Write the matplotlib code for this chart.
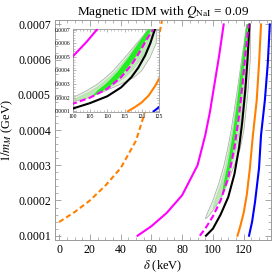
import numpy as np
import matplotlib
matplotlib.use("Agg")
import matplotlib.pyplot as plt
from matplotlib.ticker import MultipleLocator, FuncFormatter

plt.rcParams['font.family'] = ['Liberation Serif', 'DejaVu Serif']
plt.rcParams['mathtext.fontset'] = 'stix'

# ---- data (delta in keV, 1/m_M in GeV^-1) ----
orange_dash_d = [0, 10, 20, 30, 40, 50, 55, 60, 63, 65.5, 66.8]
orange_dash_y = [1.39e-4, 1.67e-4, 2.0e-4, 2.42e-4, 2.92e-4, 3.7e-4, 4.4e-4, 5.4e-4, 6.1e-4, 6.8e-4, 7.1e-4]

magenta_d = [51, 60, 70, 80, 90, 95, 98, 101, 104, 107]
magenta_y = [1.0e-4, 1.27e-4, 1.65e-4, 2.15e-4, 3.0e-4, 3.85e-4, 4.5e-4, 5.3e-4, 6.1e-4, 7.0e-4]

magenta_dash_d = [91.5, 95, 100, 105, 110, 114, 117, 119.5, 121.5, 123.3]
magenta_dash_y = [1.0e-4, 1.2e-4, 1.55e-4, 2.0e-4, 2.65e-4, 3.5e-4, 4.4e-4, 5.4e-4, 6.3e-4, 7.0e-4]

black_d = [95.5, 100, 105, 110, 114, 117, 119, 121, 122.5, 123.8]
black_y = [1.0e-4, 1.2e-4, 1.6e-4, 2.1e-4, 2.75e-4, 3.5e-4, 4.2e-4, 5.1e-4, 6.0e-4, 7.0e-4]

orange_d = [116, 118, 120, 122, 124, 126, 128.5, 130, 131.3]
orange_y = [1.0e-4, 1.3e-4, 1.65e-4, 2.15e-4, 2.9e-4, 3.85e-4, 4.85e-4, 5.9e-4, 7.0e-4]

blue_d = [123.5, 125.5, 127.4, 130, 131.3, 133.8, 135.7, 137]
blue_y = [1.0e-4, 1.4e-4, 1.96e-4, 2.92e-4, 3.86e-4, 4.85e-4, 5.9e-4, 7.0e-4]

# allowed regions (boundaries in delta at given 1/m_M)
outer_y = [1.5e-4, 1.6e-4, 2.0e-4, 2.5e-4, 3.0e-4, 3.5e-4, 4.0e-4, 5.0e-4, 6.0e-4, 6.5e-4, 7.0e-4]
outer_left = [94.8, 95.5, 99.5, 103.5, 106.8, 109.3, 111.5, 115.0, 118.3, 120.0, 121.5]
outer_right = [95.2, 97.5, 104.0, 109.0, 113.5, 117.5, 119.8, 122.3, 124.0, 124.2, 124.0]

mid_y = [1.8e-4, 2.0e-4, 2.5e-4, 3.0e-4, 3.5e-4, 4.0e-4, 5.0e-4, 6.0e-4, 7.0e-4]
mid_left = [99.8, 101.0, 105.0, 108.0, 110.3, 112.4, 115.7, 118.7, 121.6]
mid_right = [100.2, 104.0, 108.5, 112.0, 114.8, 117.0, 120.0, 122.2, 123.3]

green_y = [2.1e-4, 2.5e-4, 3.0e-4, 3.5e-4, 4.0e-4, 5.0e-4, 6.0e-4, 7.0e-4]
green_left = [105.7, 107.0, 109.5, 111.5, 113.3, 116.3, 119.0, 121.8]
green_right = [105.9, 108.8, 111.5, 113.6, 115.3, 118.2, 120.7, 122.8]

x_ticks = [0, 20, 40, 60, 80, 100, 120]
y_ticks = [1e-4, 2e-4, 3e-4, 4e-4, 5e-4, 6e-4, 7e-4]
inset_x_ticks = [100, 105, 110, 115, 120, 125]

fig = plt.figure(figsize=(2.75, 2.75), dpi=100)
ax = fig.add_axes([0.2, 0.127, 0.785, 0.8])
axin = fig.add_axes([0.265, 0.593, 0.313, 0.302])

def draw(a, lw):
    a.fill_betweenx(outer_y, outer_left, outer_right, facecolor='#e2f3de',
                    edgecolor='#a8a8a8', linewidth=0.5, zorder=1)
    a.fill_betweenx(mid_y, mid_left, mid_right, facecolor='#b9eab2',
                    edgecolor='#b0c8b0', linewidth=0.3, zorder=2)
    a.fill_betweenx(green_y, green_left, green_right, facecolor='#22ee22',
                    edgecolor='none', zorder=3)
    a.plot(magenta_d, magenta_y, color='#ff00ff', lw=lw, zorder=4)
    a.plot(black_d, black_y, color='black', lw=lw, zorder=4)
    a.plot(magenta_dash_d, magenta_dash_y, color='#ff00ff', lw=lw, zorder=5,
           dashes=(3, 1.5))
    a.plot(orange_d, orange_y, color='#ff8000', lw=lw, zorder=4)
    a.plot(blue_d, blue_y, color='#0000ff', lw=lw, zorder=4)
    a.plot(orange_dash_d, orange_dash_y, color='#ff8000', lw=lw, zorder=4,
           dashes=(2.5, 1.5))

draw(ax, 1.5)
draw(axin, 1.5)

ax.set_xlim(-2.7, 137.7)
ax.set_ylim(0.0000876, 0.0007124)
ax.set_xticks(x_ticks)
ax.set_yticks(y_ticks)
ax.xaxis.set_minor_locator(MultipleLocator(5))
ax.yaxis.set_minor_locator(MultipleLocator(2e-5))
ax.yaxis.set_major_formatter(FuncFormatter(lambda v, p: '%.4f' % v))
ax.tick_params(which='both', direction='in', top=True, right=True,
               color='#999999', labelsize=8.5, pad=3)
ax.tick_params(which='major', length=4, width=0.6)
ax.tick_params(which='minor', length=2, width=0.5)
for s in ax.spines.values():
    s.set_color('#999999')
    s.set_linewidth(0.7)
ax.set_xlabel(r'$\delta$ (keV)', fontsize=9, labelpad=2)
ax.set_ylabel(r'$1/m_M$ (GeV)', fontsize=9, labelpad=2)
ax.set_title(r'Magnetic IDM with $Q_{\rm NaI}$ = 0.09', fontsize=9.5, pad=4)

axin.set_facecolor('white')
axin.set_xlim(100, 125)
axin.set_ylim(0.000095, 0.000705)
axin.set_xticks(inset_x_ticks)
axin.set_yticks(y_ticks)
axin.xaxis.set_minor_locator(MultipleLocator(1))
axin.yaxis.set_minor_locator(MultipleLocator(2e-5))
axin.yaxis.set_major_formatter(FuncFormatter(lambda v, p: '%.4f' % v))
axin.tick_params(which='both', direction='in', top=True, right=True,
                 color='#999999', labelsize=4, pad=1.5)
axin.tick_params(which='major', length=2.5, width=0.5)
axin.tick_params(which='minor', length=1.2, width=0.4)
for s in axin.spines.values():
    s.set_color('#999999')
    s.set_linewidth(0.6)

fig.savefig('out.png', dpi=100)
